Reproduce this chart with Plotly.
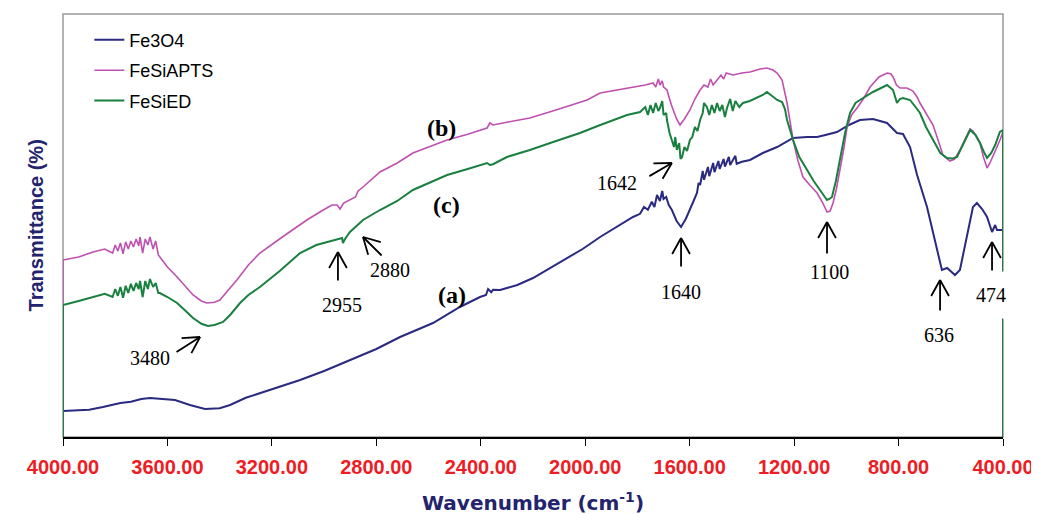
import math
import plotly.graph_objects as go

# ---------------- data (wavenumber in cm-1, transmittance in arbitrary %) ----------------
fe3o4_wn = [
    4000, 3900, 3847, 3780, 3740, 3700, 3667, 3630, 3571, 3514,
    3456, 3400, 3360, 3300, 3246, 3170, 3092, 3000, 2901, 2800,
    2709, 2583, 2480, 2403, 2380, 2372, 2360, 2353, 2326, 2260,
    2200, 2140, 2085, 2010, 1943, 1880, 1817, 1790, 1775, 1760,
    1745, 1735, 1725, 1714, 1705, 1700, 1690, 1680, 1668, 1650,
    1633, 1615, 1599, 1585, 1572, 1566, 1560, 1550, 1545, 1530,
    1525, 1510, 1505, 1490, 1485, 1470, 1465, 1450, 1445, 1425,
    1420, 1400, 1369, 1320, 1265, 1204, 1150, 1112, 1080, 1036,
    990, 948, 898, 844, 806, 783, 756, 729, 691, 660,
    634, 614, 584, 565, 538, 515, 500, 480, 461, 442,
    430, 423, 400]
fe3o4_t = [
    6.5, 6.8, 7.5, 8.5, 8.8, 9.5, 9.75, 9.6, 9.25, 8.0,
    7.0, 7.2, 8.0, 9.8, 11.0, 12.5, 14.25, 16.5, 19.25, 22.0,
    25.0, 28.5, 32.5, 35.0, 35.5, 37.0, 36.2, 36.8, 36.75, 38.0,
    39.75, 42.0, 44.25, 47.0, 50.0, 52.5, 55.0, 55.8, 57.5, 56.8,
    58.8, 57.5, 60.5, 59.0, 61.5, 59.5, 60.0, 58.0, 56.75, 54.0,
    52.5, 54.5, 56.75, 59.0, 61.0, 63.5, 63.0, 66.5, 64.3, 67.5,
    65.2, 68.5, 66.2, 69.0, 67.0, 69.5, 67.6, 70.0, 68.0, 70.3,
    68.3, 68.8, 69.25, 71.0, 72.5, 74.75, 75.0, 75.0, 75.5, 76.25,
    78.0, 79.25, 79.5, 78.5, 76.0, 75.75, 72.5, 65.5, 57.5, 49.25,
    41.75, 42.25, 40.5, 41.75, 50.0, 57.5, 58.5, 57.0, 55.0, 51.25,
    53.0, 51.75, 51.75]

fesiapts_wn = [
    4000, 4000, 3940, 3885, 3840, 3810, 3800, 3790, 3780, 3770,
    3760, 3750, 3740, 3730, 3720, 3710, 3705, 3695, 3685, 3675,
    3667, 3655, 3645, 3635, 3629, 3600, 3563, 3530, 3502, 3470,
    3449, 3420, 3399, 3370, 3334, 3290, 3246, 3160, 3066, 3010,
    2970, 2950, 2939, 2925, 2901, 2880, 2870, 2851, 2786, 2720,
    2660, 2600, 2529, 2450, 2376, 2365, 2353, 2300, 2212, 2100,
    1993, 1943, 1880, 1817, 1770, 1740, 1730, 1720, 1714, 1705,
    1700, 1687, 1670, 1650, 1637, 1620, 1599, 1580, 1560, 1545,
    1530, 1520, 1510, 1495, 1480, 1470, 1460, 1434, 1400, 1369,
    1330, 1304, 1281, 1265, 1246, 1227, 1215, 1204, 1185, 1166,
    1140, 1112, 1090, 1074, 1062, 1051, 1038, 1024, 1010, 997,
    980, 959, 935, 909, 875, 844, 830, 821, 808, 794,
    768, 745, 729, 718, 695, 668, 650, 630, 615, 603,
    585, 565, 545, 526, 515, 500, 488, 475, 461, 450,
    435, 423, 410, 400, 400]
fesiapts_t = [
    0, 44.25, 45.0, 46.25, 47.0, 46.0, 48.0, 46.5, 48.5, 45.8,
    48.8, 47.0, 49.0, 47.5, 49.5, 47.8, 50.0, 46.0, 49.5, 48.0,
    50.0, 47.0, 49.0, 45.5, 45.0, 42.5, 40.0, 37.5, 35.5, 34.0,
    33.5, 33.7, 34.25, 36.5, 39.25, 43.0, 46.0, 50.0, 54.25, 56.5,
    58.0, 58.0, 57.0, 58.5, 59.25, 60.0, 61.5, 62.5, 66.25, 68.5,
    71.0, 72.5, 74.25, 75.7, 77.25, 78.5, 78.0, 78.7, 79.75, 82.0,
    84.25, 86.0, 86.7, 87.5, 88.0, 88.5, 87.5, 89.5, 88.0, 89.0,
    87.5, 86.75, 83.0, 79.5, 78.0, 79.5, 81.75, 84.5, 86.75, 88.0,
    87.5, 89.5, 88.0, 89.25, 90.5, 89.5, 91.0, 90.5, 91.0, 91.25,
    92.0, 92.25, 91.75, 91.0, 89.25, 83.5, 79.0, 74.25, 69.0, 65.0,
    63.0, 61.0, 58.5, 56.25, 56.5, 58.5, 62.0, 66.75, 72.0, 77.5,
    80.5, 82.25, 84.5, 87.5, 90.0, 91.0, 90.8, 90.0, 88.0, 87.25,
    87.25, 86.5, 85.0, 83.5, 81.0, 78.0, 74.5, 70.5, 69.6, 69.0,
    69.5, 71.75, 74.5, 77.0, 76.5, 75.0, 73.5, 70.0, 67.25, 68.5,
    70.5, 72.5, 74.5, 76.25, 0]

fesied_wn = [
    4000, 4000, 3940, 3885, 3840, 3810, 3800, 3790, 3780, 3770,
    3760, 3750, 3740, 3730, 3720, 3710, 3705, 3695, 3685, 3675,
    3667, 3655, 3645, 3635, 3629, 3600, 3563, 3530, 3502, 3470,
    3445, 3420, 3387, 3360, 3322, 3290, 3246, 3170, 3092, 3030,
    2977, 2950, 2931, 2928, 2920, 2901, 2880, 2851, 2786, 2720,
    2660, 2600, 2529, 2450, 2376, 2365, 2353, 2300, 2212, 2120,
    2020, 1950, 1894, 1840, 1790, 1770, 1760, 1750, 1740, 1730,
    1720, 1714, 1705, 1700, 1690, 1687, 1677, 1670, 1660, 1655,
    1649, 1640, 1635, 1629, 1620, 1610, 1599, 1590, 1580, 1570,
    1560, 1550, 1545, 1534, 1525, 1515, 1505, 1495, 1485, 1475,
    1465, 1457, 1445, 1435, 1425, 1410, 1396, 1370, 1342, 1320,
    1304, 1281, 1265, 1246, 1235, 1227, 1204, 1180, 1151, 1125,
    1101, 1074, 1065, 1055, 1040, 1024, 1005, 986, 965, 948,
    898, 844, 821, 806, 795, 783, 756, 735, 718, 695,
    668, 640, 614, 595, 576, 550, 526, 505, 488, 475,
    461, 445, 430, 412, 400, 400]
fesied_t = [
    0, 33.0, 34.0, 35.0, 35.8, 35.0, 37.0, 35.3, 37.5, 34.8,
    37.8, 36.0, 38.3, 36.5, 38.5, 37.0, 39.0, 35.0, 39.0, 37.0,
    39.5, 37.5, 38.5, 36.0, 36.0, 35.0, 33.5, 31.5, 29.75, 28.3,
    27.75, 28.0, 28.75, 30.5, 33.5, 35.5, 37.5, 41.5, 46.0, 48.0,
    49.0, 49.5, 49.75, 48.5, 49.5, 51.25, 52.5, 54.25, 56.75, 59.0,
    61.75, 63.5, 65.5, 67.0, 68.5, 68.0, 68.2, 70.0, 71.75, 73.8,
    76.0, 77.8, 79.25, 80.5, 81.25, 82.5, 80.5, 83.0, 81.0, 83.5,
    81.5, 82.25, 84.0, 80.5, 81.0, 79.25, 76.0, 74.5, 72.5, 75.0,
    71.75, 73.5, 69.5, 70.0, 72.5, 71.5, 74.25, 75.0, 77.5, 76.5,
    79.25, 81.0, 83.5, 82.5, 80.5, 83.0, 81.0, 83.5, 81.5, 83.0,
    80.0, 82.25, 84.5, 81.5, 84.0, 82.5, 83.5, 84.0, 84.75, 85.5,
    86.25, 85.0, 84.25, 83.75, 82.0, 79.25, 74.25, 70.0, 66.75, 64.0,
    61.75, 59.25, 59.5, 60.0, 64.0, 69.25, 76.0, 81.0, 83.5, 84.25,
    86.25, 88.0, 86.75, 83.5, 84.5, 84.75, 84.25, 82.5, 81.0, 77.5,
    74.25, 71.0, 69.75, 69.6, 70.0, 73.5, 76.75, 75.5, 73.5, 71.5,
    69.75, 71.0, 73.0, 76.25, 76.75, 0]

series_names = ["Fe3O4", "FeSiAPTS", "FeSiED"]
tick_values = [4000, 3600, 3200, 2800, 2400, 2000, 1600, 1200, 800, 400]
peak_labels = ["3480", "2955", "2880", "1642", "1640", "1100", "636", "474"]
curve_labels = ["(a)", "(b)", "(c)"]

# ---------------- styling / layout ----------------
colors = ["#2A2A80", "#C050B0", "#1A8040"]
widths = [2, 1.6, 2]
NAVY = "#23236E"
RED = "#EE1C24"
SANS = "Liberation Sans, Arial, sans-serif"
WIDE_SANS = "DejaVu Sans, Liberation Sans, sans-serif"
SERIF = "Liberation Serif, Times New Roman, serif"

FIG_W, FIG_H = 1031, 506          # page body adds an 8px margin
ML, MR, MT, MB = 55, 36, 6, 77
X_RANGE = [4000, 400]
Y_RANGE = [0, 105.75]
PLOT_W = FIG_W - ML - MR
PLOT_H = FIG_H - MT - MB
PX_PER_X = PLOT_W / (X_RANGE[1] - X_RANGE[0])   # negative: reversed axis
PX_PER_Y = PLOT_H / (Y_RANGE[1] - Y_RANGE[0])

fig = go.Figure()
for name, wn, t, c, w in zip(series_names,
                             [fe3o4_wn, fesiapts_wn, fesied_wn],
                             [fe3o4_t, fesiapts_t, fesied_t], colors, widths):
    fig.add_trace(go.Scatter(x=wn, y=t, mode="lines", name=name, legendgroup=name,
                             line=dict(color=c, width=w)))

annotations = []
# label positions (layout): (head_x, head_y, tail_x, tail_y, text_x, text_y)
arrow_geom = [
    (3475, 25.0, 3571, 21.0, 3667, 19.75),
    (2947, 46.25, 2947, 38.75, 2931, 33.0),
    (2851, 50.0, 2774, 45.0, 2748, 41.75),
    (1668, 68.5, 1760, 65.0, 1878, 63.5),
    (1633, 49.75, 1633, 42.25, 1633, 36.25),
    (1074, 53.75, 1074, 45.5, 1063, 41.25),
    (641, 39.25, 641, 31.25, 645, 25.5),
    (442, 48.75, 442, 41.25, 446, 35.5),
]
for lab, (hx, hy, tx, ty, lx, ly) in zip(peak_labels, arrow_geom):
    annotations.append(dict(x=lx, y=ly, xref="x", yref="y", text=lab, showarrow=False,
                            font=dict(family=SERIF, size=20, color="black"),
                            bgcolor="white" if lab == "474" else None,
                            borderpad=12 if lab == "474" else 1))

ARM_LEN, ARM_ANG = 20, math.radians(29)
for lab, (hx, hy, tx, ty, lx, ly) in zip(peak_labels, arrow_geom):
    # shaft
    annotations.append(dict(x=hx, y=hy, ax=tx, ay=ty, xref="x", yref="y", axref="x", ayref="y",
                            text="", showarrow=True, arrowhead=0,
                            arrowwidth=1.8, arrowcolor="black"))
    # open V head: two short arms
    vx = (tx - hx) * PX_PER_X
    vy = -(ty - hy) * PX_PER_Y
    n = math.hypot(vx, vy)
    ux, uy = vx / n, vy / n
    for s in (1, -1):
        a = s * ARM_ANG
        rx = ux * math.cos(a) - uy * math.sin(a)
        ry = ux * math.sin(a) + uy * math.cos(a)
        annotations.append(dict(x=hx, y=hy, ax=rx * ARM_LEN, ay=ry * ARM_LEN,
                                xref="x", yref="y", axref="pixel", ayref="pixel",
                                text="", showarrow=True, arrowhead=0,
                                arrowwidth=1.8, arrowcolor="black"))

curve_pos = [(2510, 35.5), (2549, 77.25), (2533, 58.0)]
for lab, (x, y) in zip(curve_labels, curve_pos):
    annotations.append(dict(x=x, y=y, xref="x", yref="y", text="<b>" + lab + "</b>",
                            showarrow=False, font=dict(family=SERIF, size=24, color="black")))

annotations.append(dict(x=0.5, y=-0.153, xref="paper", yref="paper",
                        text="<b>Wavenumber (cm<sup>-1</sup>)</b>", showarrow=False,
                        font=dict(family=WIDE_SANS, size=20, color=NAVY), yanchor="middle"))
annotations.append(dict(x=-0.0426, y=0.5, xref="paper", yref="paper",
                        text="<b>Transmittance (%)</b>", showarrow=False, textangle=-90,
                        font=dict(family=SANS, size=20, color=NAVY)))

fig.update_layout(
    width=FIG_W, height=FIG_H,
    margin=dict(l=ML, r=MR, t=MT, b=MB, autoexpand=False),
    paper_bgcolor="white", plot_bgcolor="white",
    showlegend=True,
    legend=dict(x=0.028, y=0.982, xanchor="left", yanchor="top",
                font=dict(family=SANS, size=18, color="black"),
                bgcolor="rgba(0,0,0,0)", traceorder="grouped", tracegroupgap=4),
    annotations=annotations,
    shapes=[dict(type="rect", xref="paper", yref="paper", x0=0, x1=1, y0=0, y1=1,
                 line=dict(color="#9A9A9A", width=1.5), layer="below")],
)
fig.update_xaxes(range=X_RANGE, tickvals=tick_values, tickformat=".2f",
                 tickfont=dict(family=SANS, size=20, color=RED, weight="bold"),
                 showline=True, linecolor="black", linewidth=1.5,
                 ticks="outside", ticklen=7, tickcolor="black", tickwidth=1,
                 showgrid=False, zeroline=False, ticklabelstandoff=4, automargin=False)
fig.update_yaxes(range=Y_RANGE, showticklabels=False, showgrid=False,
                 zeroline=False, showline=False, ticks="", automargin=False)

fig.write_html("out.html")
